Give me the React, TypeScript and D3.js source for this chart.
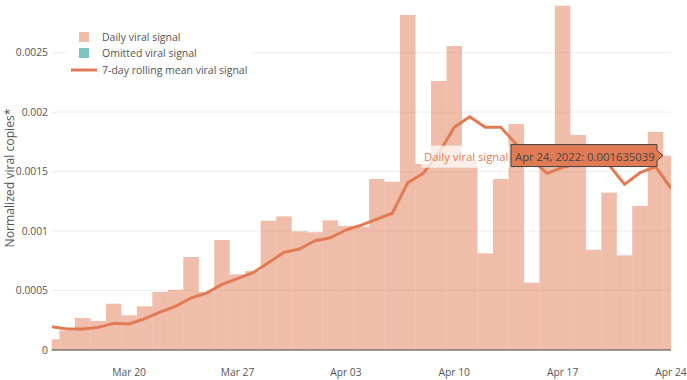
import React from 'react';
import * as d3 from 'd3';

const dates = [
  '2022-03-15','2022-03-16','2022-03-17','2022-03-18','2022-03-19','2022-03-20','2022-03-21',
  '2022-03-22','2022-03-23','2022-03-24','2022-03-25','2022-03-26','2022-03-27','2022-03-28',
  '2022-03-29','2022-03-30','2022-03-31','2022-04-01','2022-04-02','2022-04-03','2022-04-04',
  '2022-04-05','2022-04-06','2022-04-07','2022-04-08','2022-04-09','2022-04-10','2022-04-11',
  '2022-04-12','2022-04-13','2022-04-14','2022-04-15','2022-04-16','2022-04-17','2022-04-18',
  '2022-04-19','2022-04-20','2022-04-21','2022-04-22','2022-04-23','2022-04-24',
];

const dailySignal = [
  0.00009, 0.000163, 0.000269, 0.000244, 0.000389, 0.000292, 0.000367,
  0.000488, 0.000507, 0.000782, 0.000488, 0.000925, 0.000636, 0.000664,
  0.001087, 0.001124, 0.000998, 0.00099, 0.00109, 0.001043, 0.001037,
  0.001438, 0.001415, 0.002817, 0.001564, 0.002262, 0.002556, 0.00159,
  0.000813, 0.001438, 0.0019, 0.000566, 0.00159, 0.002895, 0.001808,
  0.000843, 0.001323, 0.000796, 0.001211, 0.001833, 0.001635039,
];

const rollingMean = [
  0.000195, 0.000177, 0.000177, 0.00019, 0.000224, 0.000219, 0.000263,
  0.000318, 0.000368, 0.000437, 0.000478, 0.000552, 0.0006, 0.00065,
  0.000734, 0.000821, 0.000849, 0.000919, 0.000944, 0.001009, 0.00105,
  0.0011, 0.00115, 0.001407, 0.001486, 0.001654, 0.001873, 0.001962,
  0.001873, 0.001873, 0.001732, 0.001603, 0.001486, 0.001536, 0.001565,
  0.00157, 0.001556, 0.001393, 0.001491, 0.001541, 0.00136,
];

const yTicks = [0, 0.0005, 0.001, 0.0015, 0.002, 0.0025];
const yTickLabels = ['0', '0.0005', '0.001', '0.0015', '0.002', '0.0025'];
const xTickDates = ['2022-03-20', '2022-03-27', '2022-04-03', '2022-04-10', '2022-04-17', '2022-04-24'];
const xTickLabels = ['Mar 20', 'Mar 27', 'Apr 03', 'Apr 10', 'Apr 17', 'Apr 24'];
const legendLabels = ['Daily viral signal', 'Omitted viral signal', '7-day rolling mean viral signal'];
const yTitle = 'Normalized viral copies*';
const hoverName = 'Daily viral signal';
const hoverText = 'Apr 24, 2022: 0.001635039';

const LINE = '#E07B54';
const OMIT = '#7FC4C0';
const FONT = "'Open Sans', 'Noto Sans', sans-serif";

export default function App() {
  const parse = d3.timeParse('%Y-%m-%d');
  const ds = dates.map((d) => parse(d) as Date);
  const L = 51.7, R = 671, B = 350;
  const x = d3.scaleTime().domain([ds[0], ds[ds.length - 1]]).range([L, R]);
  const y = d3.scaleLinear().domain([0, 0.0025]).range([B, 52.7]);
  const line = d3.line<number>()
    .x((_, i) => x(ds[i]))
    .y((v) => y(v));

  const hi = ds.length - 1;
  const hx = x(ds[hi]) - 8;
  const hy = y(dailySignal[hi]);

  return (
    <svg width={687} height={380} style={{ position: 'absolute', left: 0, top: 0, background: '#fff' }} fontFamily={FONT}>
      <defs>
        <clipPath id="plot">
          <rect x={L} y={0} width={R - L} height={B} />
        </clipPath>
      </defs>
      {yTicks.map((t, i) => (
        <g key={'y' + i}>
          {i > 0 && <line x1={L} x2={R} y1={y(t)} y2={y(t)} stroke="#eee" strokeWidth={1} />}
          <text x={48} y={y(t) + 3.6} textAnchor="end" fontSize={10.3} fill="#555">{yTickLabels[i]}</text>
        </g>
      ))}
      <g clipPath="url(#plot)">
        {ds.map((d, i) => {
          const x0 = x(d3.timeHour.offset(d, -12));
          const x1 = x(d3.timeHour.offset(d, 12));
          return (
            <rect key={'b' + i} x={x0} y={y(dailySignal[i])} width={x1 - x0} height={B - y(dailySignal[i])}
              fill={LINE} fillOpacity={0.5} />
          );
        })}
        <path d={line(rollingMean) || ''} fill="none" stroke={LINE} strokeWidth={3} strokeLinejoin="round" />
      </g>
      <line x1={L} x2={R} y1={B} y2={B} stroke="#444" strokeWidth={1} />
      {xTickDates.map((t, i) => (
        <text key={'x' + i} x={x(parse(t) as Date)} y={376} textAnchor="middle" fontSize={10.3} fill="#555">{xTickLabels[i]}</text>
      ))}
      <text transform={`translate(13.5,178) rotate(-90)`} textAnchor="middle" fontSize={12.2} fill="#555">{yTitle}</text>

      {/* legend */}
      <rect x={67} y={26} width={185} height={54} fill="#fff" />
      <rect x={79} y={32} width={10} height={10} fill={LINE} fillOpacity={0.5} />
      <rect x={79} y={48} width={10} height={10} fill={OMIT} />
      <line x1={71} x2={97} y1={70} y2={70} stroke={LINE} strokeWidth={3} />
      {legendLabels.map((t, i) => (
        <text key={'l' + i} x={102} y={40.8 + i * 16.5} fontSize={10.5} fill="#555">{t}</text>
      ))}

      {/* hover labels */}
      <rect x={421.5} y={145.7} width={88} height={22} fill="#fff" fillOpacity={0.75} />
      <text x={424} y={161} fontSize={11.3} fill={LINE}>{hoverName}</text>
      <path d={`M${511},${hy - 11} L${hx - 6},${hy - 11} L${hx - 6},${hy - 5} L${hx},${hy} L${hx - 6},${hy + 5} L${hx - 6},${hy + 11} L${511},${hy + 11} Z`}
        fill={LINE} stroke="#444" strokeWidth={1} />
      <text x={515} y={161} fontSize={11.3} fill="#444">{hoverText}</text>
    </svg>
  );
}
